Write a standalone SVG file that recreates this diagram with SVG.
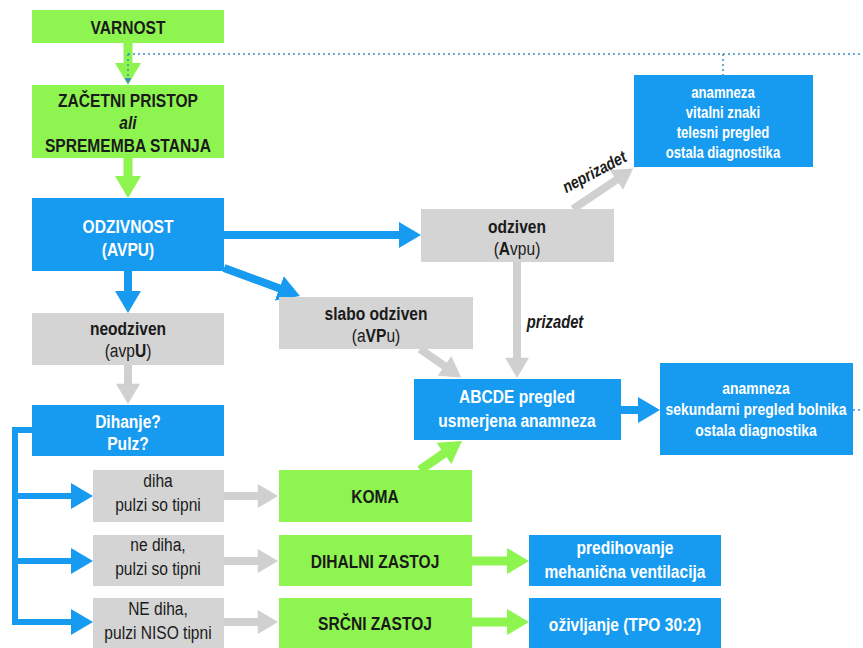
<svg xmlns="http://www.w3.org/2000/svg" width="863" height="648" viewBox="0 0 863 648">
<style>
text{font-family:"Liberation Sans Narrow","Liberation Sans",Arial,sans-serif;text-anchor:middle;}
.g{fill:#8ef550;}
.b{fill:#179bf0;}
.s{fill:#d4d4d4;}
.dk{fill:#1a1a1a;font-weight:bold;font-size:19px;}
.dn{fill:#1a1a1a;font-weight:normal;font-size:19px;}
.wt{fill:#ffffff;font-weight:bold;font-size:19px;}
.ws{fill:#ffffff;font-weight:bold;font-size:16px;}
.lg{stroke:#8ef550;stroke-width:9;fill:none;}
.lb{stroke:#179bf0;stroke-width:8;fill:none;}
.lbt{stroke:#179bf0;stroke-width:6;fill:none;}
.ls{stroke:#d0d0d0;stroke-width:8;fill:none;}
.dot{stroke:#3d8fc2;stroke-width:1.5;stroke-dasharray:2 3;fill:none;}
</style>
<defs>
<marker id="ag" viewBox="0 0 22 26" refX="10" refY="13" markerWidth="22" markerHeight="26" markerUnits="userSpaceOnUse" orient="auto"><path d="M0,0 L22,13 L0,26 z" fill="#8ef550"/></marker>
<marker id="ab" viewBox="0 0 22 26" refX="10" refY="13" markerWidth="22" markerHeight="26" markerUnits="userSpaceOnUse" orient="auto"><path d="M0,0 L22,13 L0,26 z" fill="#179bf0"/></marker>
<marker id="as" viewBox="0 0 22 26" refX="10" refY="13" markerWidth="22" markerHeight="24" markerUnits="userSpaceOnUse" orient="auto"><path d="M0,0 L22,13 L0,26 z" fill="#d0d0d0"/></marker>
</defs>

<g id="connectors">
<line class="lg" x1="128" y1="43" x2="128" y2="73" marker-end="url(#ag)"/>
<line class="lg" x1="128" y1="158" x2="128" y2="186" marker-end="url(#ag)"/>
<line class="lb" x1="224" y1="235" x2="409" y2="235" marker-end="url(#ab)"/>
<line class="lb" x1="224" y1="268" x2="288.7" y2="291.8" marker-end="url(#ab)"/>
<line class="lb" x1="128" y1="271" x2="128" y2="301" marker-end="url(#ab)"/>
<line class="ls" x1="573" y1="209" x2="624" y2="174.7" marker-end="url(#as)"/>
<line class="ls" x1="517" y1="262" x2="517" y2="367" marker-end="url(#as)"/>
<line class="ls" x1="420" y1="349" x2="452.1" y2="371.2" marker-end="url(#as)"/>
<line class="lb" x1="621" y1="410" x2="648" y2="410" marker-end="url(#ab)"/>
<line class="ls" x1="128" y1="365" x2="128" y2="393" marker-end="url(#as)"/>
<polyline class="lbt" points="32,430 15,430 15,622"/>
<line class="lbt" x1="12" y1="496" x2="81" y2="496" marker-end="url(#ab)"/>
<line class="lbt" x1="12" y1="561" x2="81" y2="561" marker-end="url(#ab)"/>
<line class="lbt" x1="12" y1="622" x2="81" y2="622" marker-end="url(#ab)"/>
<line class="ls" x1="224" y1="496" x2="267" y2="496" marker-end="url(#as)"/>
<line class="ls" x1="224" y1="561" x2="267" y2="561" marker-end="url(#as)"/>
<line class="ls" x1="224" y1="622" x2="267" y2="622" marker-end="url(#as)"/>
<line class="lg" x1="420" y1="470" x2="452.1" y2="447.8" marker-end="url(#ag)"/>
<line class="lg" x1="472" y1="561" x2="517" y2="561" marker-end="url(#ag)"/>
<line class="lg" x1="472" y1="622" x2="517" y2="622" marker-end="url(#ag)"/>
<path class="dot" d="M128,54 H863 M723,54 V75 M128,54 V79 M853,410 H863"/>
<path d="M124.5,78 L131.5,78 L128,84 z" fill="#3d8fc2"/>
<text x="0" y="0" transform="translate(597,177) rotate(-28) scale(0.82,1)" style="fill:#1a1a1a;font-weight:bold;font-style:italic;font-size:17px;">neprizadet</text>
<text x="555" y="328" transform="matrix(0.82,0,0,1,99.9,0)" style="fill:#1a1a1a;font-weight:bold;font-style:italic;font-size:18px;">prizadet</text>
</g>

<g id="varnost"><rect class="g" x="32" y="10" width="192" height="33"/><text class="dk" x="128" y="34" transform="matrix(0.82,0,0,1,23.04,0)">VARNOST</text></g>
<g id="zacetni"><rect class="g" x="32" y="85" width="192" height="73"/>
<g transform="matrix(0.82,0,0,1,23.04,0)">
<text class="dk" x="128" y="107">ZAČETNI PRISTOP</text>
<text class="dk" x="128" y="129" font-style="italic">ali</text>
<text class="dk" x="128" y="152">SPREMEMBA STANJA</text></g></g>
<g id="odzivnost"><rect class="b" x="32" y="198" width="192" height="73"/>
<g transform="matrix(0.82,0,0,1,23.04,0)"><text class="wt" x="128" y="233">ODZIVNOST</text><text class="wt" x="128" y="256">(AVPU)</text></g></g>
<g id="odziven"><rect class="s" x="421" y="209" width="193" height="53"/>
<g transform="matrix(0.82,0,0,1,93.06,0)"><text class="dk" x="517" y="233">odziven</text><text class="dn" x="517" y="255">(<tspan font-weight="bold">A</tspan>vpu)</text></g></g>
<g id="anamneza1"><rect class="b" x="634" y="75" width="179" height="92"/>
<g transform="matrix(0.82,0,0,1,130.14,0)"><text class="ws" x="723" y="98">anamneza</text><text class="ws" x="723" y="118">vitalni znaki</text>
<text class="ws" x="723" y="138">telesni pregled</text><text class="ws" x="723" y="158">ostala diagnostika</text></g></g>
<g id="neodziven"><rect class="s" x="32" y="313" width="192" height="52"/>
<g transform="matrix(0.82,0,0,1,23.04,0)"><text class="dk" x="128" y="335">neodziven</text><text class="dn" x="128" y="357">(avp<tspan font-weight="bold">U</tspan>)</text></g></g>
<g id="slabo"><rect class="s" x="279" y="297" width="194" height="52"/>
<g transform="matrix(0.82,0,0,1,67.68,0)"><text class="dk" x="376" y="320">slabo odziven</text><text class="dn" x="376" y="342">(a<tspan font-weight="bold">VP</tspan>u)</text></g></g>
<g id="abcde"><rect class="b" x="414" y="379" width="207" height="61"/>
<g transform="matrix(0.82,0,0,1,93.06,0)"><text class="wt" x="517" y="403">ABCDE pregled</text><text class="wt" x="517" y="427">usmerjena anamneza</text></g></g>
<g id="anamneza2"><rect class="b" x="660" y="363" width="193" height="92"/>
<g transform="matrix(0.82,0,0,1,136.08,0)"><text class="ws" x="756" y="394" style="font-size:17px">anamneza</text>
<text class="ws" x="756" y="415" style="font-size:17px">sekundarni pregled bolnika</text>
<text class="ws" x="756" y="436" style="font-size:17px">ostala diagnostika</text></g></g>
<g id="dihanje"><rect class="b" x="32" y="405" width="192" height="51"/>
<g transform="matrix(0.82,0,0,1,23.04,0)"><text class="wt" x="128" y="428">Dihanje?</text><text class="wt" x="128" y="450">Pulz?</text></g></g>
<g id="diha"><rect class="s" x="93" y="470" width="131" height="52"/>
<g transform="matrix(0.82,0,0,1,28.44,0)"><text class="dn" x="158" y="487">diha</text><text class="dn" x="158" y="511">pulzi so tipni</text></g></g>
<g id="nediha"><rect class="s" x="93" y="535" width="131" height="51"/>
<g transform="matrix(0.82,0,0,1,28.44,0)"><text class="dn" x="158" y="551">ne diha,</text><text class="dn" x="158" y="575">pulzi so tipni</text></g></g>
<g id="NEdiha"><rect class="s" x="93" y="598" width="131" height="50"/>
<g transform="matrix(0.82,0,0,1,28.44,0)"><text class="dn" x="158" y="615">NE diha,</text><text class="dn" x="158" y="639">pulzi NISO tipni</text></g></g>
<g id="koma"><rect class="g" x="279" y="470" width="193" height="52"/><text class="dk" x="375" y="503" transform="matrix(0.82,0,0,1,67.5,0)">KOMA</text></g>
<g id="dihalni"><rect class="g" x="279" y="535" width="193" height="51"/><text class="dk" x="375" y="568" transform="matrix(0.82,0,0,1,67.5,0)">DIHALNI ZASTOJ</text></g>
<g id="srcni"><rect class="g" x="279" y="598" width="193" height="50"/><text class="dk" x="375" y="630" transform="matrix(0.82,0,0,1,67.5,0)">SRČNI ZASTOJ</text></g>
<g id="predihovanje"><rect class="b" x="529" y="535" width="192" height="51"/>
<g transform="matrix(0.82,0,0,1,112.5,0)"><text class="wt" x="625" y="554">predihovanje</text><text class="wt" x="625" y="578">mehanična ventilacija</text></g></g>
<g id="ozivljanje"><rect class="b" x="529" y="598" width="192" height="50"/>
<text class="wt" x="625" y="631" transform="matrix(0.82,0,0,1,112.5,0)">oživljanje (TPO 30:2)</text></g>
</svg>
